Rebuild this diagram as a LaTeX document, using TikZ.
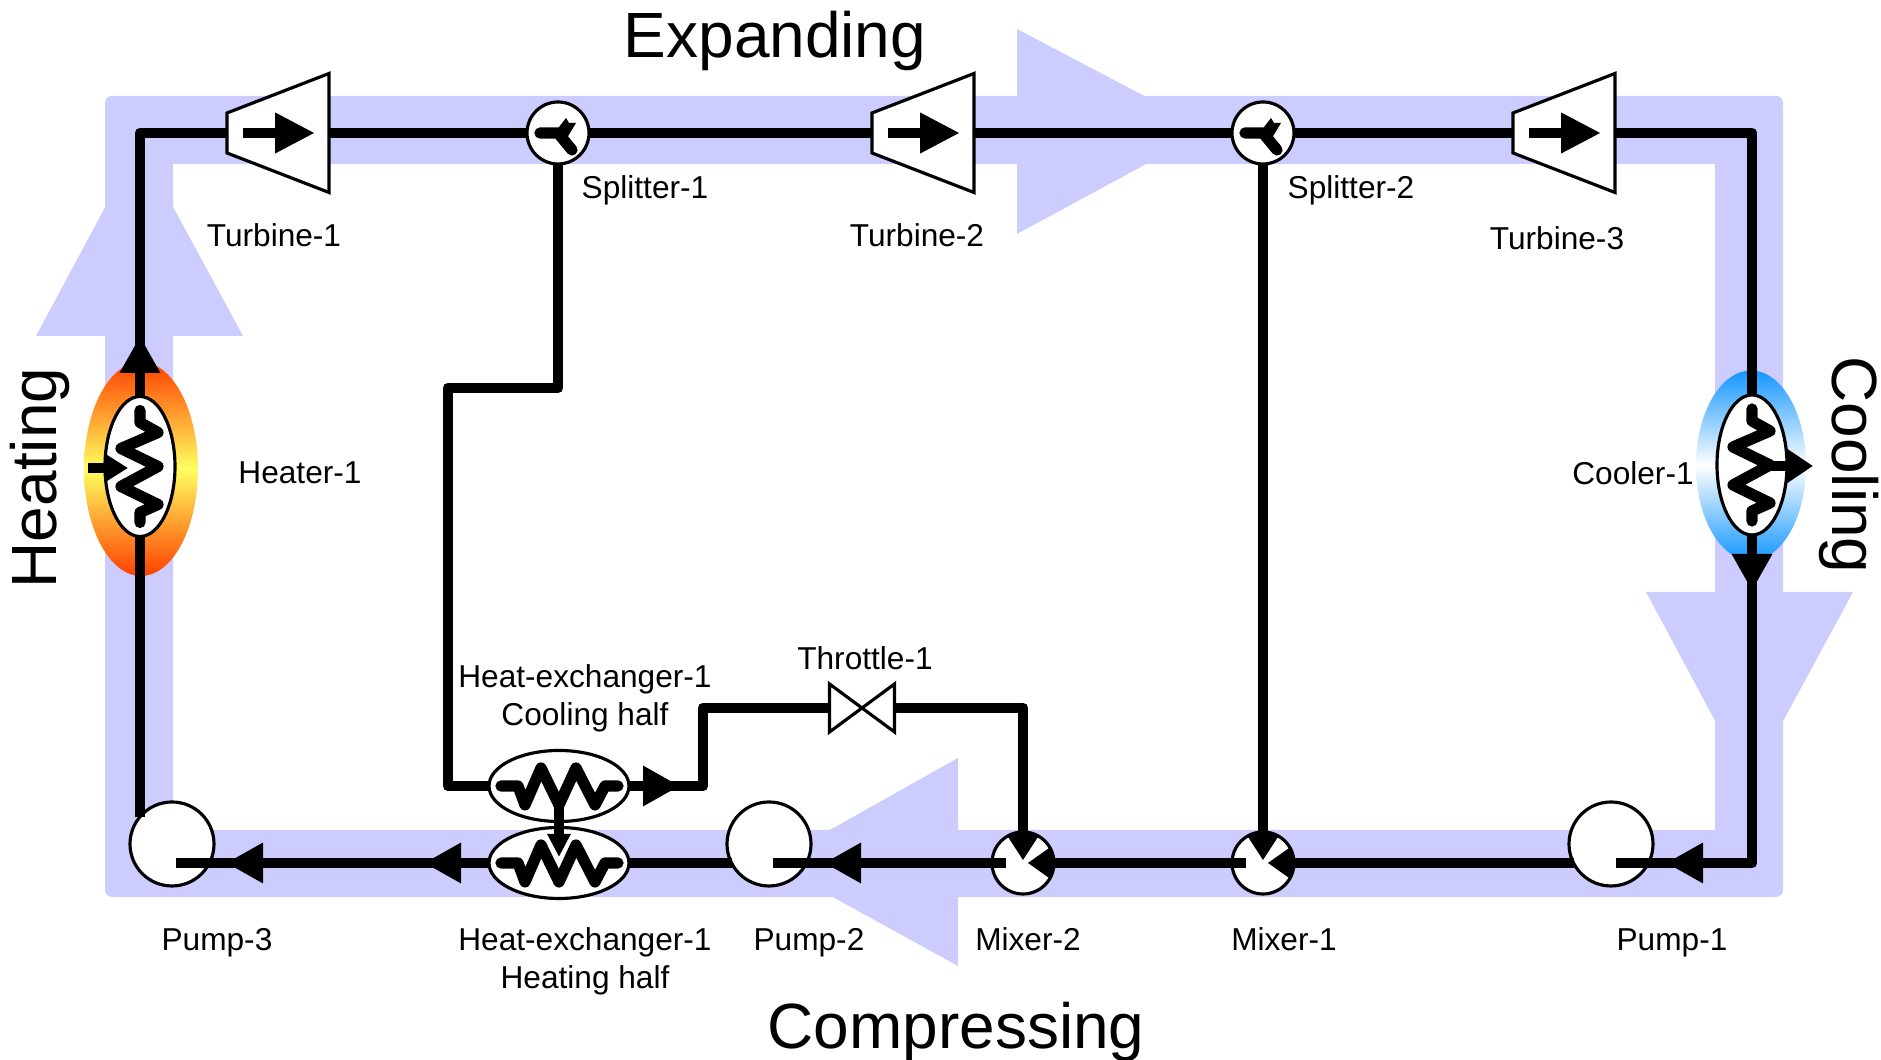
\documentclass[tikz,border=0pt]{standalone}
\usepackage{fontspec}
\setmainfont{Liberation Sans}
\usetikzlibrary{shapes.geometric, arrows.meta}

\definecolor{bandblue}{RGB}{204,204,255}
\definecolor{hotred}{RGB}{255,64,0}
\definecolor{hotyellow}{RGB}{255,255,96}
\definecolor{coldblue}{RGB}{20,150,255}

\newcommand{\turbine}[2]{
    \node[turbinebox] (#1) at (#2) {};
    \filldraw[unit] (#1.north east) -- (#1.south east) -- ([yshift=0.395cm]#1.south west) -- ([yshift=-0.395cm]#1.north west) -- cycle;
    \coordinate (#1a) at ([xshift=0.16cm]#1.west);
    \coordinate (#1b) at ([xshift=-0.14cm]#1.east);
    \draw[flow, -{Triangle[length=0.4cm,width=0.38cm]}] (#1a) -- (#1b);
}
\newcommand{\splitter}[2]{
    \node[junction] (#1) at (#2) {};
    \draw[coil, shift={(#1.center)}] (-0.18,0) -- (0,0) -- (0.14,-0.17);
    \fill[shift={(#1.center)}] (-0.02,0.02) -- (0.08,0.15) -- (0.11,0.10) -- (0.18,0.10) -- (0.09,-0.05) -- cycle;
}
\newcommand{\mixer}[2]{
    \node[junction] (#1) at (#2) {};
    \fill ([yshift=0.03cm]#1.center) -- (#1.120) arc[start angle=120,end angle=60,radius=0.31cm] -- cycle;
    \fill ([xshift=0.05cm]#1.center) -- (#1.30) arc[start angle=30,end angle=-30,radius=0.31cm] -- cycle;
}
\newcommand{\coilh}[1]{
    \draw[coil, shift={(#1)}] (-0.58,0) -- (-0.41,0) -- (-0.34,-0.19) -- (-0.18,0.18) -- (0,-0.19) -- (0.17,0.18) -- (0.36,-0.19) -- (0.46,0) -- (0.59,0);
}
\newcommand{\coilv}[1]{
    \draw[coil, shift={(#1)}] (0,0.56) -- (0,0.44) -- (0.18,0.34) -- (-0.19,0.18) -- (0.18,0) -- (-0.19,-0.20) -- (0.18,-0.38) -- (0,-0.46) -- (0,-0.56);
}

\begin{document}
\begin{tikzpicture}
        [
            flow/.style = {line width=3.1pt, line join=round},
            coil/.style = {line width=3.2pt, line cap=round, line join=round},
            unit/.style = {draw=black, fill=white, line width=0.9pt},
            tip/.style = {-{Triangle[length=0.37cm,width=0.38cm]}},
            turbinebox/.style = {shape=rectangle, minimum height=1.19cm, minimum width=1.02cm, inner sep=0pt, outer sep=0pt},
            junction/.style = {unit, shape=circle, minimum size=0.62cm, inner sep=0pt, outer sep=0pt},
            pump/.style = {unit, shape=circle, minimum size=0.84cm, inner sep=0pt, outer sep=0pt},
            exchanger/.style = {unit, shape=ellipse, minimum width=1.4cm, minimum height=0.71cm, inner sep=0pt, outer sep=0pt},
            heatunit/.style = {unit, shape=ellipse, minimum width=0.7cm, minimum height=1.4cm, inner sep=0pt, outer sep=0pt},
            halo/.style = {shape=ellipse, inner sep=0pt, outer sep=0pt},
            small/.style = {font=\fontsize{9}{10.8}\selectfont, align=center, inner sep=0pt},
            big/.style = {font=\fontsize{18.2}{22}\selectfont, inner sep=0pt},
        ]

        \useasboundingbox (0,0) rectangle (18.81,10.6);

        \fill[bandblue, even odd rule] [rounded corners=0.07cm] (1.05,9.64) rectangle (17.83,1.63) [sharp corners] (1.73,8.96) rectangle (17.15,2.30);
        \fill[bandblue] (10.17,10.31) -- (12.09,9.3) -- (10.17,8.26) -- cycle;
        \fill[bandblue] (9.58,3.02) -- (7.71,1.97) -- (9.58,0.94) -- cycle;
        \fill[bandblue] (0.36,7.24) -- (1.39,9.16) -- (2.43,7.24) -- cycle;
        \fill[bandblue] (16.46,4.68) -- (17.49,2.76) -- (18.53,4.68) -- cycle;

        \node[halo, minimum width=1.14cm, minimum height=2.14cm, top color=hotred, bottom color=hotred, middle color=hotyellow] (heatglow) at (1.41,5.91) {};
        \node[halo, minimum width=1.10cm, minimum height=1.90cm, top color=coldblue, bottom color=coldblue, middle color=white] (coolglow) at (17.51,5.945) {};

        \turbine{t1}{2.78,9.27}
        \turbine{t2}{9.23,9.27}
        \turbine{t3}{15.64,9.27}

        \splitter{sp1}{5.58,9.27}
        \splitter{sp2}{12.63,9.27}

        \mixer{mix1}{12.63,1.97}
        \mixer{mix2}{10.23,1.97}

        \node[pump] (p1) at (16.11,2.16) {};
        \node[pump] (p2) at (7.69,2.16) {};
        \node[pump] (p3) at (1.72,2.16) {};

        \node[exchanger] (he1) at (5.59,2.74) {};
        \node[exchanger] (he2) at (5.59,1.97) {};

        \node[heatunit] (heater) at (1.40,5.935) {};
        \node[heatunit] (cooler) at (17.52,5.95) {};

        \node[shape=rectangle, minimum width=0.65cm, minimum height=0.48cm, inner sep=0pt, outer sep=0pt] (thr) at (8.62,3.52) {};
        \filldraw[unit] (thr.north west) -- (thr.south east) -- (thr.north east) -- (thr.south west) -- cycle;

        \coordinate (heattip) at (1.40,7.24);
        \coordinate (cooltip) at (17.52,4.69);
        \coordinate (corner) at (17.52,1.97);
        \coordinate (p1tip) at (16.66,1.97);
        \coordinate (p1stub) at (16.16,1.97);
        \coordinate (mix1stub) at (12.46,1.97);
        \coordinate (mix2stub) at (10.06,1.97);
        \coordinate (p2tip) at (8.24,1.97);
        \coordinate (p2stub) at (7.73,1.97);
        \coordinate (he2tip) at (4.24,1.97);
        \coordinate (p3tip) at (2.26,1.97);
        \coordinate (p3stub) at (1.76,1.97);
        \coordinate (benda) at (4.48,6.72);
        \coordinate (he1tip) at (6.80,2.74);
        \coordinate (bendb) at (7.03,2.74);
        \coordinate (stema) at (5.59,2.55);
        \coordinate (stemb) at (5.59,2.03);
        \coordinate (heatin) at (0.88,5.92);
        \coordinate (heatend) at (1.28,5.92);
        \coordinate (coolout) at (17.70,5.94);
        \coordinate (coolend) at (18.13,5.94);

        \draw[flow] (p3.140 -| heater.south) -- (heater.south);
        \draw[flow] (heater.north) |- (t1.west);
        \draw[flow, tip] (heater.north) -- (heattip);
        \draw[flow] (t1.east) -- (sp1.west);
        \draw[flow] (sp1.east) -- (t2.west);
        \draw[flow] (t2.east) -- (sp2.west);
        \draw[flow] (sp2.east) -- (t3.west);
        \draw[flow] (t3.east) -| (cooler.north);
        \draw[flow] (cooler.south) |- (p1stub);
        \draw[flow, tip] (cooler.south) -- (cooltip);
        \draw[flow, tip] (corner) -- (p1tip);
        \draw[flow] (p1.207 |- mix1.east) -- (mix1.east);
        \draw[flow] (mix1stub) -- (mix2.east);
        \draw[flow] (mix2stub) -- (p2stub);
        \draw[flow, tip] (mix2stub) -- (p2tip);
        \draw[flow] (p2.207 |- he2.east) -- (he2.east);
        \draw[flow] (he2.west) -- (p3stub);
        \draw[flow, tip] (he2.west) -- (he2tip);
        \draw[flow, tip] (he2tip) -- (p3tip);
        \draw[flow] (sp2.south) -- (mix1.north);
        \draw[flow] (sp1.south) |- (benda) |- (he1.west);
        \draw[flow] (he1.east) -- (bendb) |- (thr.west);
        \draw[flow, tip] (he1.east) -- (he1tip);
        \draw[flow] (thr.east) -| (mix2.north);

        \coilv{heater}
        \coilv{cooler}
        \coilh{he1}
        \coilh{he2}

        \draw[flow, -{Triangle[length=0.23cm,width=0.22cm]}] (stema) -- (stemb);
        \draw[flow, -{Triangle[length=0.23cm,width=0.27cm]}] (heatin) -- (heatend);
        \draw[flow, -{Triangle[length=0.27cm,width=0.34cm]}] (coolout) -- (coolend);

        \node[big] (lexp) at (7.75,10.19) {Expanding};
        \node[big] (lcomp) at (9.56,0.28) {Compressing};
        \node[big, rotate=90] (lheat) at (0.40,5.82) {Heating};
        \node[big, rotate=-90] (lcool) at (18.49,5.95) {Cooling};

        \node[small] (lt1) at (2.74,8.25) {Turbine-1};
        \node[small] (lt2) at (9.17,8.25) {Turbine-2};
        \node[small] (lt3) at (15.57,8.22) {Turbine-3};
        \node[small] (lsp1) at (6.45,8.70) {Splitter-1};
        \node[small] (lsp2) at (13.51,8.70) {Splitter-2};
        \node[small] (lheater) at (3.00,5.87) {Heater-1};
        \node[small] (lcooler) at (16.33,5.87) {Cooler-1};
        \node[small] (lthr) at (8.65,4.02) {Throttle-1};
        \node[small] (lhe1) at (5.85,3.62) {Heat-exchanger-1\\Cooling half};
        \node[small] (lhe2) at (5.85,0.985) {Heat-exchanger-1\\Heating half};
        \node[small] (lp3) at (2.17,1.175) {Pump-3};
        \node[small] (lp2) at (8.09,1.175) {Pump-2};
        \node[small] (lmix2) at (10.28,1.21) {Mixer-2};
        \node[small] (lmix1) at (12.84,1.21) {Mixer-1};
        \node[small] (lp1) at (16.72,1.175) {Pump-1};
    \end{tikzpicture}
\end{document}
